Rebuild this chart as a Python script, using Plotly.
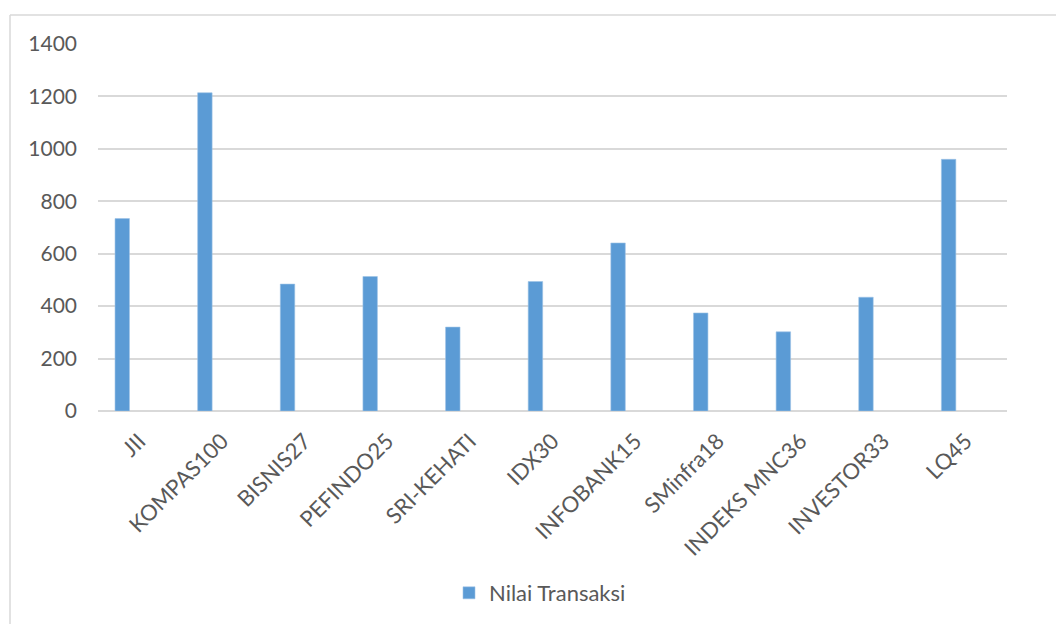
import plotly.graph_objects as go

categories = ["JII", "KOMPAS100", "BISNIS27", "PEFINDO25", "SRI-KEHATI", "IDX30",
              "INFOBANK15", "SMinfra18", "INDEKS MNC36", "INVESTOR33", "LQ45"]
nilai_transaksi = [734, 1214, 484, 513, 320, 494, 641, 374, 302, 434, 960]
y_ticks = [0, 200, 400, 600, 800, 1000, 1200, 1400]

FONT = "Lato"
TXT = "#595959"
GRID = "#D9D9D9"

fig = go.Figure()
fig.add_trace(go.Bar(
    x=list(range(len(categories))),
    y=nilai_transaksi,
    name="Nilai Transaksi",
    marker=dict(color="#5B9BD5", line=dict(color="#9DC3E6", width=0.6)),
    width=0.175,
    offset=-0.294,
))

W, H = 1056, 624
L, R, T, B = 98, 49, 44, 213
pw, ph = W - L - R, H - T - B

def px_to_paper_x(px):
    return (px - L) / pw

def px_to_paper_y(py):
    return (H - B - py) / ph

fig.update_layout(
    width=W, height=H,
    margin=dict(l=L, r=R, t=T, b=B, autoexpand=False),
    paper_bgcolor="white", plot_bgcolor="white",
    font=dict(family=FONT, color=TXT, size=21),
    showlegend=True,
    legend=dict(orientation="h", x=px_to_paper_x(540), xanchor="center",
                y=px_to_paper_y(593), yanchor="middle",
                font=dict(size=22, color=TXT, family=FONT),
                itemwidth=30),
    xaxis=dict(
        range=[-0.5, 10.5],
        tickmode="array",
        tickvals=list(range(len(categories))),
        ticktext=categories,
        tickangle=-45,
        showgrid=False,
        zeroline=False,
        showline=False,
        ticks="",
        ticklabelstandoff=12,
        tickfont=dict(size=22, color=TXT, family=FONT),
        fixedrange=True,
    ),
    yaxis=dict(
        range=[0, 1400],
        tickmode="array",
        tickvals=y_ticks,
        ticktext=[str(v) for v in y_ticks],
        showgrid=True,
        gridcolor=GRID,
        gridwidth=1.5,
        zeroline=True,
        zerolinecolor=GRID,
        zerolinewidth=1.5,
        showline=False,
        ticks="",
        ticklabelstandoff=20,
        tickfont=dict(size=21, color=TXT, family=FONT),
        fixedrange=True,
    ),
    shapes=[
        dict(type="line", xref="paper", yref="paper",
             x0=px_to_paper_x(10), x1=px_to_paper_x(1060),
             y0=px_to_paper_y(15), y1=px_to_paper_y(15),
             line=dict(color="#D9D9D9", width=1.5)),
        dict(type="line", xref="paper", yref="paper",
             x0=px_to_paper_x(10), x1=px_to_paper_x(10),
             y0=px_to_paper_y(15), y1=px_to_paper_y(630),
             line=dict(color="#D9D9D9", width=1.5)),
    ],
)

fig.write_html("out.html")
